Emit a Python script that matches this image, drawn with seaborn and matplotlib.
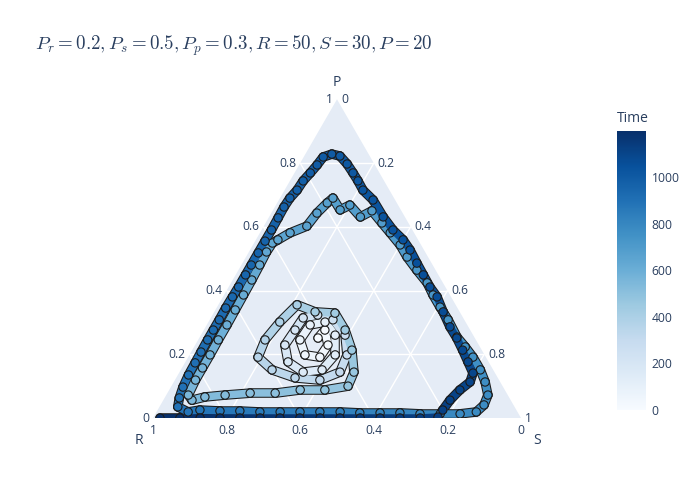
import numpy as np
import pandas as pd
import matplotlib
matplotlib.use("Agg")
import matplotlib.pyplot as plt
import matplotlib.patheffects as pe
from matplotlib.collections import LineCollection
from matplotlib.patches import Polygon
import seaborn as sns

# trajectory: time step, P share, S share (R = 1 - P - S)
time = [0, 15, 30, 45, 60, 75, 90, 105, 120, 135, 150, 165, 180, 195, 210, 225, 240, 255, 270, 285,
        300, 315, 330, 345, 360, 375, 390, 405, 420, 435, 445, 455, 465, 475, 485,
        495, 505, 515, 525, 537, 550,
        555, 565, 572, 580, 588, 596, 604, 612, 620, 628, 636, 644, 650,
        656, 662, 668, 673, 676, 680, 684, 688, 692, 697,
        701, 706, 711, 716, 721, 726, 731, 736, 742, 748, 754, 760, 765, 770, 775, 780,
        786, 793, 800, 807, 814, 821, 828, 835, 842, 849, 856, 863, 870, 877, 882, 886,
        890, 895, 900, 906, 912, 918, 923, 928, 933, 938, 943, 948, 952, 957, 962, 966, 970, 974, 978, 982,
        986, 990, 994, 998, 1002, 1006, 1010, 1014, 1018, 1022, 1027, 1033, 1038, 1043, 1047, 1052, 1057,
        1062, 1066, 1071, 1076, 1081, 1086, 1091, 1096, 1101, 1108, 1116, 1124, 1130,
        1136, 1142, 1148, 1154, 1160, 1166, 1172, 1177, 1182, 1186, 1190, 1194, 1197, 1199]

p_share = [0.251, 0.276, 0.229, 0.191, 0.198, 0.245, 0.292, 0.301, 0.260, 0.198, 0.151, 0.144, 0.176, 0.229,
           0.276, 0.314, 0.323, 0.308, 0.260, 0.198, 0.144, 0.119, 0.126, 0.151, 0.191, 0.245, 0.301, 0.355,
           0.333, 0.329, 0.276, 0.213, 0.144, 0.100, 0.088,
           0.088, 0.078, 0.078, 0.072, 0.066, 0.056,
           0.072, 0.119, 0.157, 0.198, 0.245, 0.292, 0.339, 0.386, 0.433, 0.480, 0.521, 0.549, 0.559,
           0.581, 0.602, 0.643, 0.675, 0.690, 0.653, 0.668, 0.631, 0.650, 0.612,
           0.581, 0.543, 0.505, 0.464, 0.424, 0.386, 0.348, 0.308, 0.254, 0.223, 0.191, 0.151, 0.113, 0.072,
           0.041, 0.019,
           0.013, 0.013, 0.013, 0.016, 0.016, 0.016, 0.019, 0.019, 0.019, 0.019, 0.019, 0.022, 0.022, 0.025,
           0.019, 0.035,
           0.063, 0.097, 0.135, 0.173, 0.207, 0.245, 0.276, 0.308, 0.345, 0.380, 0.411, 0.449, 0.480, 0.518,
           0.555, 0.590, 0.628, 0.662, 0.690, 0.715, 0.744, 0.769, 0.794, 0.819, 0.828, 0.822, 0.797, 0.769,
           0.744, 0.715, 0.684, 0.631, 0.590, 0.559, 0.527, 0.486, 0.449, 0.411, 0.380, 0.333, 0.286, 0.251,
           0.213, 0.176, 0.141, 0.113, 0.088, 0.056, 0.025, 0.003,
           0.0, 0.0, 0.0, 0.0, 0.0, 0.0, 0.0, 0.0, 0.0, 0.0, 0.0, 0.0, 0.0, 0.0]

s_share = [0.323, 0.329, 0.361, 0.358, 0.314, 0.277, 0.281, 0.317, 0.365, 0.396, 0.384, 0.336, 0.279, 0.244,
           0.248, 0.251, 0.286, 0.335, 0.392, 0.428, 0.436, 0.394, 0.323, 0.248, 0.190, 0.182, 0.194, 0.214,
           0.274, 0.330, 0.384, 0.434, 0.474, 0.480, 0.423,
           0.356, 0.293, 0.225, 0.160, 0.108, 0.078,
           0.060, 0.056, 0.056, 0.056, 0.055, 0.055, 0.054, 0.053, 0.052, 0.050, 0.048, 0.050, 0.060,
           0.082, 0.117, 0.124, 0.136, 0.144, 0.182, 0.201, 0.248, 0.270, 0.316,
           0.354, 0.400, 0.438, 0.485, 0.533, 0.568, 0.606, 0.648, 0.699, 0.737, 0.774, 0.814, 0.846, 0.874,
           0.879, 0.869,
           0.828, 0.774, 0.719, 0.663, 0.609, 0.554, 0.499, 0.444, 0.390, 0.336, 0.281, 0.225, 0.171, 0.115,
           0.086, 0.050,
           0.040, 0.033, 0.029, 0.028, 0.027, 0.026, 0.026, 0.026, 0.025, 0.026, 0.027, 0.027, 0.027, 0.027,
           0.027, 0.027, 0.026, 0.025, 0.027, 0.034, 0.036, 0.043, 0.049, 0.053, 0.072, 0.097, 0.129, 0.159,
           0.185, 0.213, 0.256, 0.310, 0.357, 0.400, 0.435, 0.474, 0.510, 0.547, 0.582, 0.622, 0.664, 0.700,
           0.735, 0.768, 0.799, 0.805, 0.790, 0.779, 0.775, 0.773,
           0.726, 0.671, 0.617, 0.563, 0.508, 0.454, 0.399, 0.345, 0.291, 0.236, 0.182, 0.128, 0.073, 0.019]

tick_vals = [0, 0.2, 0.4, 0.6, 0.8, 1]
tick_text = ["0", "0.2", "0.4", "0.6", "0.8", "1"]
cbar_ticks = [0, 200, 400, 600, 800, 1000]
title = r"$P_r = 0.2, P_s = 0.5, P_p = 0.3, R = 50, S = 30, P = 20$"

sns.set_style("white")
plt.rcParams['font.family'] = ['Open Sans', 'DejaVu Sans']
plt.rcParams['mathtext.fontset'] = 'cm'
txt = '#2a3f5f'
H = np.sqrt(3) / 2


def cart(p, s):
    return s + p / 2.0, p * H


p_arr = np.array(p_share)
s_arr = np.array(s_share)
x, y = cart(p_arr, s_arr)
df = pd.DataFrame({'x': x, 'y': y, 'Time': time})
tmax = max(time)

fig = plt.figure(figsize=(7, 5), dpi=100)
ax = fig.add_axes([0, 0, 1, 1])
# 368 px per unit, triangle corner R at pixel (153, 418)
ax.set_xlim(-153 / 368, 547 / 368)
ax.set_ylim(-82 / 368, 418 / 368)
ax.axis('off')

tri = Polygon([[0, 0], [1, 0], [0.5, H]], closed=True, facecolor='#E5ECF6', edgecolor='none', zorder=0)
ax.add_patch(tri)

# grid
for v in [0.2, 0.4, 0.6, 0.8]:
    ax.plot(*zip(cart(v, 0), cart(v, 1 - v)), color='white', lw=1, zorder=1)
    ax.plot(*zip(cart(0, v), cart(1 - v, v)), color='white', lw=1, zorder=1)
    ax.plot(*zip(cart(0, 1 - v), cart(1 - v, 0)), color='white', lw=1, zorder=1)

# chain between consecutive points
norm = plt.Normalize(0, tmax)
cmap = plt.get_cmap('Blues')
pts = np.column_stack([x, y])
segs = np.stack([pts[:-1], pts[1:]], axis=1)
mid = (np.array(time[:-1]) + np.array(time[1:])) / 2
lc = LineCollection(segs, colors=cmap(norm(mid)), linewidths=5.4, capstyle='round', zorder=2,
                    path_effects=[pe.Stroke(linewidth=6.9, foreground='#1b1b1b'), pe.Normal()])
ax.add_collection(lc)
lc.set_clip_path(tri)

sns.scatterplot(data=df, x='x', y='y', hue='Time', palette='Blues', hue_norm=(0, tmax),
                s=36, edgecolor='#1b1b1b', linewidth=0.8, legend=False, ax=ax, zorder=3)
ax.collections[-1].set_clip_path(tri)
ax.set_xlim(-153 / 368, 547 / 368)
ax.set_ylim(-82 / 368, 418 / 368)
ax.axis('off')

off = 4 / 368
fs = 8.7
for v, t in zip(tick_vals, tick_text):
    # P axis on the left edge
    px, py = cart(v, 0)
    ax.text(px - off, py, t, ha='right', va='center', fontsize=fs, color=txt)
    # S axis on the right edge
    sx, sy = cart(1 - v, v)
    ax.text(sx + off, sy, t, ha='left', va='center', fontsize=fs, color=txt)
    # R axis along the bottom
    rx, ry = cart(0, 1 - v)
    ax.text(rx, ry - 12 / 368, t, ha='center', va='center', fontsize=fs, color=txt)

ax.text(0.5, 335 / 368, 'P', ha='center', va='center', fontsize=10, color=txt)
ax.text(-14 / 368, -23 / 368, 'R', ha='center', va='center', fontsize=10, color=txt)
ax.text(384 / 368, -23 / 368, 'S', ha='center', va='center', fontsize=10, color=txt)

fig.text(35 / 700, 1 - 46 / 500, title, fontsize=13.6, color=txt, ha='left', va='center')

cax = fig.add_axes([617 / 700, 90 / 500, 29 / 700, 279 / 500])
sm = matplotlib.cm.ScalarMappable(norm=norm, cmap=cmap)
cb = fig.colorbar(sm, cax=cax)
cb.outline.set_visible(False)
cb.set_ticks(cbar_ticks)
cax.tick_params(length=0, labelsize=fs, labelcolor=txt, pad=4)
fig.text(617 / 700, 1 - 119 / 500, 'Time', fontsize=10, color=txt, ha='left', va='center')

fig.savefig('out.png', dpi=100)
